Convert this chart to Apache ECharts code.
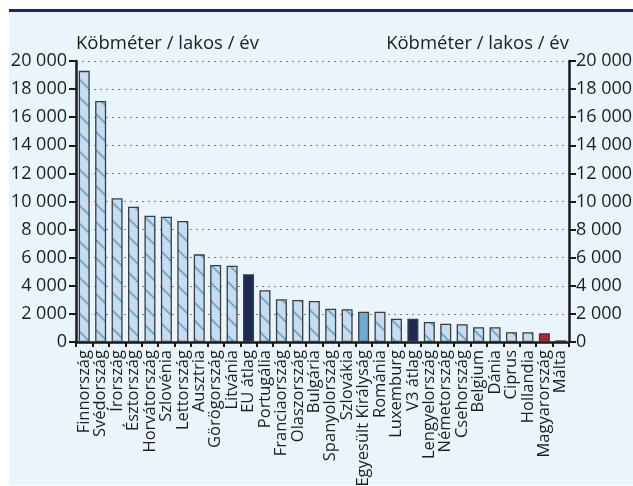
<!DOCTYPE html>
<html>
<head>
<meta charset="utf-8">
<script src="https://cdn.jsdelivr.net/npm/echarts@6/dist/echarts.min.js"></script>
<style>
  html, body { margin: 0; padding: 0; background: #fff; }
  #chart { width: 633px; height: 486px; }
</style>
</head>
<body>
<div id="chart"></div>
<script>
// országok
var categories = ['Finnország', 'Svédország', 'Írország', 'Észtország', 'Horvátország', 'Szlovénia',
    'Lettország', 'Ausztria', 'Görögország', 'Litvánia', 'EU átlag', 'Portugália', 'Franciaország',
    'Olaszország', 'Bulgária', 'Spanyolország', 'Szlovákia', 'Egyesült Királyság', 'Románia',
    'Luxemburg', 'V3 átlag', 'Lengyelország', 'Németország', 'Csehország', 'Belgium', 'Dánia',
    'Ciprus', 'Hollandia', 'Magyarország', 'Málta'];
// köbméter / lakos / év
var values = [19300, 17150, 10230, 9630, 8990, 8920, 8610, 6240, 5480, 5430, 4820, 3680, 3040,
    2990, 2920, 2370, 2330, 2160, 2160, 1660, 1660, 1420, 1300, 1260, 1050, 1050, 690, 690, 620, 120];
// kiemelt oszlopok
var highlightNames = ['EU átlag', 'V3 átlag', 'Egyesült Királyság', 'Magyarország'];
var highlightColors = ['#1b2b55', '#1b2b55', '#6eaad6', '#b72025'];
var yTicks = [0, 20000, 2000];

// sraffozott minta
function hatch() {
    var c = document.createElement('canvas');
    c.width = 18; c.height = 18;
    var ctx = c.getContext('2d');
    ctx.fillStyle = '#c6ddf1';
    ctx.fillRect(0, 0, 18, 18);
    ctx.strokeStyle = '#6aaedc';
    ctx.lineWidth = 2;
    ctx.beginPath();
    ctx.moveTo(-2, -2); ctx.lineTo(20, 20);
    ctx.moveTo(-2, 16); ctx.lineTo(2, 20);
    ctx.moveTo(16, -2); ctx.lineTo(20, 2);
    ctx.stroke();
    return c;
}
var pattern = { image: hatch(), repeat: 'repeat' };

var barData = [];
for (var i = 0; i < categories.length; i++) {
    var k = highlightNames.indexOf(categories[i]);
    barData.push({
        value: values[i],
        itemStyle: { color: k >= 0 ? highlightColors[k] : pattern }
    });
}

function fmt(v) {
    return String(v).replace(/\B(?=(\d{3})+(?!\d))/g, ' ');
}

var font = '"Open Sans", Lato, sans-serif';
var txt = '#1e1e1e';
var yBase = {
    type: 'value',
    min: yTicks[0],
    max: yTicks[1],
    interval: yTicks[2],
    name: 'Köbméter / lakos / év',
    nameLocation: 'end',
    nameGap: 8,
    axisLine: { show: true, lineStyle: { color: '#1a1a1a', width: 2.5 } },
    axisTick: { show: true, length: 7, lineStyle: { color: '#1a1a1a', width: 2 } },
    axisLabel: { color: txt, fontSize: 18, fontFamily: font, formatter: fmt }
};

var myChart = echarts.init(document.getElementById('chart'));
var option = {
    animation: false,
    textStyle: { fontFamily: font },
    graphic: [
        { type: 'rect', z: -10, shape: { x: 9, y: 10, width: 624, height: 475 }, style: { fill: '#e9f4fb' } },
        { type: 'rect', z: -5, shape: { x: 9, y: 9, width: 624, height: 3 }, style: { fill: '#1b2a5e' } }
    ],
    grid: { left: 76, right: 64, top: 61, bottom: 144, containLabel: false, outerBoundsMode: 'none' },
    xAxis: {
        type: 'category',
        data: categories,
        axisLine: { lineStyle: { color: '#1a1a1a', width: 2.5 } },
        axisTick: { show: true, length: 5, lineStyle: { color: '#1a1a1a', width: 2 } },
        axisLabel: { interval: 0, rotate: 90, fontSize: 16.5, color: txt, fontFamily: font, margin: 8 }
    },
    yAxis: [
        Object.assign({}, yBase, {
            position: 'left',
            axisLabel: Object.assign({}, yBase.axisLabel, { margin: 9 }),
            nameTextStyle: { align: 'left', fontSize: 18.5, color: txt, fontFamily: font },
            splitLine: { show: true, lineStyle: { color: '#808080', type: [2, 4], width: 1 } }
        }),
        Object.assign({}, yBase, {
            position: 'right',
            axisLabel: Object.assign({}, yBase.axisLabel, { margin: 7 }),
            nameTextStyle: { align: 'right', fontSize: 18.5, color: txt, fontFamily: font },
            splitLine: { show: false }
        })
    ],
    series: [{
        type: 'bar',
        data: barData,
        barWidth: 11,
        itemStyle: { borderColor: '#3c3c3c', borderWidth: 1.3 }
    }]
};
myChart.setOption(option);
</script>
</body>
</html>
